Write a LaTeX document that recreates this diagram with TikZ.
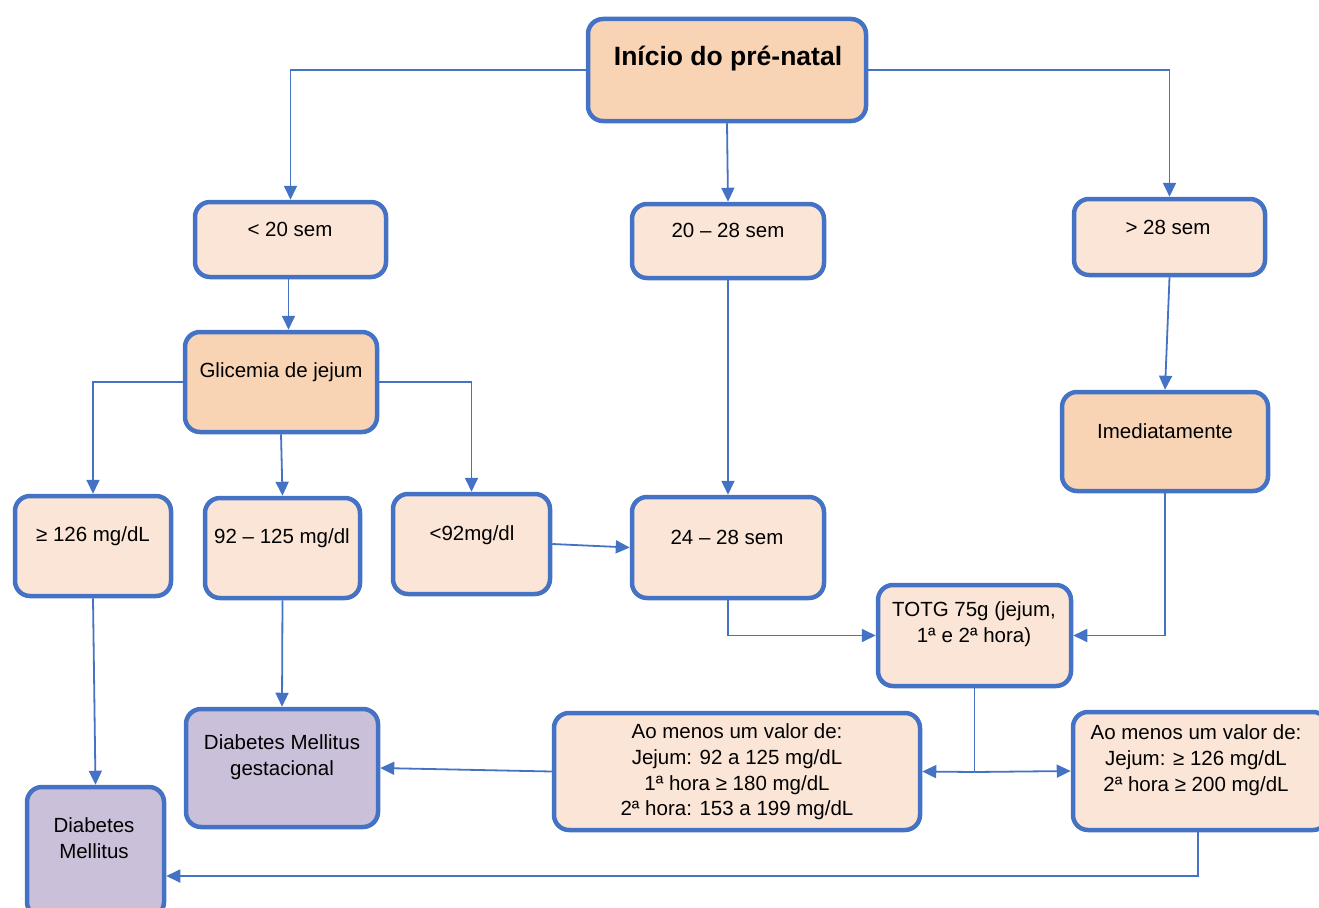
\documentclass[tikz,border=0pt]{standalone}
\usepackage{fontspec}
\setmainfont{Liberation Sans}
\usetikzlibrary{arrows.meta,calc}
\definecolor{bl}{HTML}{4472C4}
\definecolor{pk}{HTML}{FBE5D6}
\definecolor{pkd}{HTML}{F9D4B4}
\definecolor{pu}{HTML}{CBC0DA}
\tikzset{
  box/.style={draw=bl, line width=4.5pt, rounded corners=15pt, inner sep=0pt},
  txt/.style={align=center, inner sep=0pt, font=\fontsize{20.5}{25.7}\selectfont},
  arr/.style={draw=bl, line width=1.8pt, -{Triangle[length=14pt,width=13pt]}},
  ln/.style={draw=bl, line width=1.8pt}
}
\begin{document}
\begin{tikzpicture}[x=1pt,y=-1pt]
\useasboundingbox (0,0) rectangle (1319,907);
\clip (0,0) rectangle (1319,907);
% boxes
\node[box,fill=pkd,minimum width=278pt,minimum height=102pt] (start) at (727,70) {};
\node[box,fill=pk,minimum width=191pt,minimum height=75pt] (lt20) at (290.5,239.5) {};
\node[box,fill=pk,minimum width=192pt,minimum height=74pt] (m2028) at (728,241) {};
\node[box,fill=pk,minimum width=191pt,minimum height=76pt] (gt28) at (1169.5,237) {};
\node[box,fill=pkd,minimum width=192pt,minimum height=100pt] (glic) at (281,382) {};
\node[box,fill=pkd,minimum width=206pt,minimum height=99pt] (imed) at (1165,441.5) {};
\node[box,fill=pk,minimum width=156pt,minimum height=100pt] (g126) at (93,546) {};
\node[box,fill=pk,minimum width=155pt,minimum height=100pt] (r92) at (282.5,548) {};
\node[box,fill=pk,minimum width=157pt,minimum height=100pt] (l92) at (471.5,544) {};
\node[box,fill=pk,minimum width=192pt,minimum height=101pt] (m2428) at (728,547.5) {};
\node[box,fill=pk,minimum width=193pt,minimum height=101pt] (totg) at (974.5,635.5) {};
\node[box,fill=pu,minimum width=192pt,minimum height=118pt] (dmg) at (282,768) {};
\node[box,fill=pu,minimum width=137pt,minimum height=130pt] (dm) at (95.5,852) {};
\node[box,fill=pk,minimum width=366pt,minimum height=117pt] (aol) at (737,771.5) {};
\node[box,fill=pk,minimum width=255pt,minimum height=118pt] (aor) at (1200.5,771) {};
% texts
\node[txt,font=\fontsize{26.5}{30}\selectfont\bfseries] (tstart) at (728,59) {Início do pré-natal};
\node[txt] (tlt20) at (290,229) {< 20 sem};
\node[txt] (tm2028) at (728,230) {20 – 28 sem};
\node[txt] (tgt28) at (1168,227) {> 28 sem};
\node[txt] (tglic) at (281,372) {Glicemia de jejum};
\node[txt] (timed) at (1165,431) {Imediatamente};
\node[txt] (tg126) at (93,536) {≥ 126 mg/dL};
\node[txt] (tr92) at (282,538) {92 – 125 mg/dl};
\node[txt] (tl92) at (472,535) {<92mg/dl};
\node[txt] (tm2428) at (727,537) {24 – 28 sem};
\node[txt] (ttotg) at (974,624) {TOTG 75g (jejum,\\1ª e 2ª hora)};
\node[txt] (tdmg) at (282,757) {Diabetes Mellitus\\gestacional};
\node[txt] (tdm) at (94,838) {Diabetes\\Mellitus};
\node[txt] (taol) at (737,772) {Ao menos um valor de:\\Jejum: 92 a 125 mg/dL\\1ª hora ≥ 180 mg/dL\\2ª hora: 153 a 199 mg/dL};
\node[txt] (taor) at (1196,760) {Ao menos um valor de:\\Jejum: ≥ 126 mg/dL\\2ª hora ≥ 200 mg/dL};
% connectors
\draw[arr] (start.west) -| (lt20.north);
\draw[arr] (start.south) -- (m2028.north);
\draw[arr] (start.east) -| (gt28.north);
\draw[arr] ($(lt20.south)+(-2,0)$) -- ($(lt20.south |- glic.north)+(-2,0)$);
\draw[arr] (glic.west) -| (g126.north);
\draw[arr] (glic.south) -- (r92.north);
\draw[arr] (glic.east) -| (l92.north);
\draw[arr] (m2028.south) -- (m2428.north);
\draw[arr] (gt28.south) -- (imed.north);
\draw[arr] (l92.east) -- (m2428.west);
\draw[arr] (m2428.south) |- (totg.west);
\draw[arr] (imed.south) |- (totg.east);
\draw[arr] (g126.south) -- (dm.north);
\draw[arr] (r92.south) -- (dmg.north);
\coordinate (j) at (974.5,772);
\draw[ln] (totg.south) -- (j);
\draw[arr] (j) -- (aol.east);
\draw[arr] (j) -- (aor.west);
\draw[arr] (aol.west) -- (dmg.east);
\coordinate (c1) at (1198,876);
\draw[arr] (aor.south -| c1) |- (c1 -| dm.east);
\end{tikzpicture}
\end{document}
